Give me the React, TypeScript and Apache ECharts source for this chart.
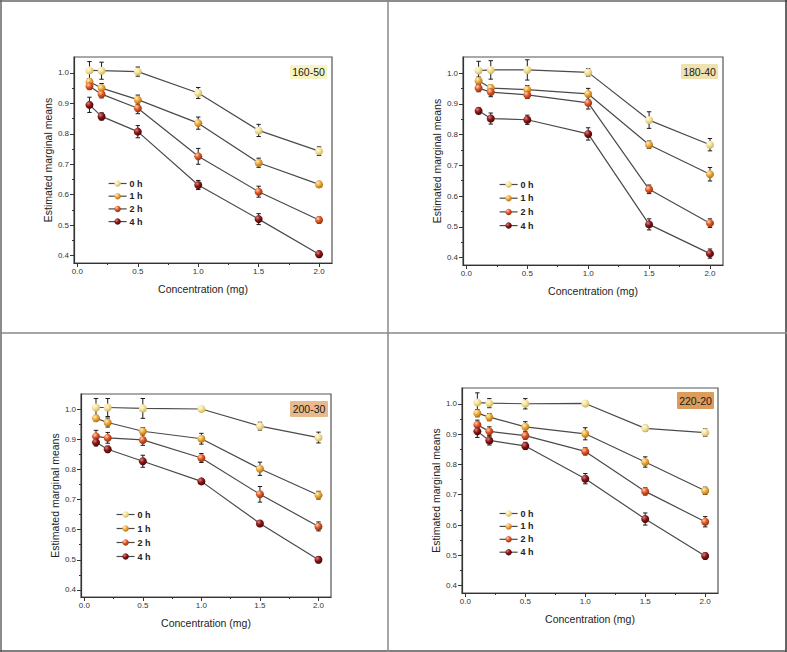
import { useEffect, useRef } from 'react';
import * as echarts from 'echarts';

// ---------- data ----------
const concentrations = [0.1, 0.2, 0.5, 1.0, 1.5, 2.0];
const hours = ['0 h', '1 h', '2 h', '4 h'];
const panelLabels = ['160-50', '180-40', '200-30', '220-20'];
const xTickValues = [0, 0.5, 1.0, 1.5, 2.0];
const xMinorTicks = [0.25, 0.75, 1.25, 1.75];
const yTickValues = [0.4, 0.5, 0.6, 0.7, 0.8, 0.9, 1.0];
const yMinorTicks = [0.45, 0.55, 0.65, 0.75, 0.85, 0.95];
const xAxisName = 'Concentration (mg)';
const yAxisName = 'Estimated marginal means';

const means_160_50 = [
  [1.008, 1.007, 1.004, 0.934, 0.811, 0.743],
  [0.971, 0.950, 0.912, 0.835, 0.705, 0.634],
  [0.956, 0.930, 0.884, 0.726, 0.610, 0.517],
  [0.895, 0.857, 0.807, 0.632, 0.520, 0.405],
];
const errors_160_50 = [
  [0.029, 0.028, 0.015, 0.018, 0.020, 0.014],
  [0.010, 0.015, 0.015, 0.020, 0.015, 0.010],
  [0.010, 0.012, 0.018, 0.026, 0.018, 0.010],
  [0.025, 0.012, 0.020, 0.015, 0.018, 0.010],
];
const means_180_40 = [
  [1.008, 1.010, 1.010, 1.002, 0.847, 0.767],
  [0.975, 0.951, 0.946, 0.932, 0.767, 0.671],
  [0.951, 0.938, 0.929, 0.903, 0.622, 0.512],
  [0.877, 0.852, 0.848, 0.802, 0.508, 0.413],
];
const errors_180_40 = [
  [0.030, 0.030, 0.033, 0.012, 0.027, 0.020],
  [0.012, 0.010, 0.013, 0.018, 0.012, 0.022],
  [0.012, 0.015, 0.012, 0.020, 0.014, 0.014],
  [0.010, 0.018, 0.015, 0.020, 0.018, 0.015],
];
const means_200_30 = [
  [1.007, 1.007, 1.004, 1.002, 0.945, 0.907],
  [0.971, 0.957, 0.928, 0.903, 0.803, 0.715],
  [0.911, 0.906, 0.899, 0.839, 0.718, 0.611],
  [0.891, 0.868, 0.828, 0.761, 0.621, 0.500],
];
const errors_200_30 = [
  [0.030, 0.030, 0.033, 0.005, 0.013, 0.018],
  [0.010, 0.015, 0.012, 0.018, 0.022, 0.013],
  [0.020, 0.018, 0.018, 0.015, 0.026, 0.015],
  [0.012, 0.010, 0.020, 0.008, 0.010, 0.010],
];
const means_220_20 = [
  [1.004, 1.002, 1.000, 1.001, 0.919, 0.905],
  [0.969, 0.956, 0.924, 0.901, 0.808, 0.713],
  [0.931, 0.909, 0.895, 0.843, 0.711, 0.611],
  [0.909, 0.879, 0.861, 0.753, 0.620, 0.498],
];
const errors_220_20 = [
  [0.032, 0.015, 0.017, 0.005, 0.010, 0.012],
  [0.012, 0.012, 0.017, 0.020, 0.017, 0.012],
  [0.015, 0.015, 0.012, 0.012, 0.012, 0.017],
  [0.020, 0.015, 0.012, 0.017, 0.020, 0.010],
];

// ---------- styling / layout ----------
const FONT = '"Liberation Sans", Arial, sans-serif';
const sphereColors = [
  ['#fffbe6', '#f4e39c', '#c9ad5a'],
  ['#fff0c8', '#efaa3a', '#a86a10'],
  ['#ffd0b0', '#de5a28', '#8c2a0c'],
  ['#e08080', '#8a1818', '#3c0404'],
];
const labelFills = ['#f8f3c2', '#efe2ae', '#e8b98c', '#dd9c5c'];

const panelMeans = [means_160_50, means_180_40, means_200_30, means_220_20];
const panelErrors = [errors_160_50, errors_180_40, errors_200_30, errors_220_20];
const grids = [
  { left: 74, top: 57, width: 258, height: 206 },
  { left: 463, top: 57, width: 260, height: 208 },
  { left: 81, top: 394, width: 250, height: 203 },
  { left: 462, top: 388, width: 256, height: 205 },
];
const legendPos = [
  { left: 108, top: 179, gap: 3.7 },
  { left: 499, top: 180, gap: 4.7 },
  { left: 116, top: 510, gap: 5.0 },
  { left: 499, top: 509, gap: 3.9 },
];
const labelBoxes = [
  { x: 290, y: 65, w: 37, h: 14 },
  { x: 681, y: 64, w: 37, h: 15 },
  { x: 290, y: 401, w: 38, h: 16 },
  { x: 677, y: 392, w: 37, h: 17 },
];
const X_MIN = -0.028;
const X_MAX = 2.107;
const Y_MIN = 0.376;
const Y_MAX = 1.052;

function sphere(h: number) {
  const [hi, mid, lo] = sphereColors[h];
  return new echarts.graphic.RadialGradient(0.35, 0.32, 0.75, [
    { offset: 0, color: hi },
    { offset: 0.45, color: mid },
    { offset: 1, color: lo },
  ]);
}

function errorBar(params: any, api: any) {
  const x = api.value(0);
  const y = api.value(1);
  const e = api.value(2);
  const top = api.coord([x, y + e]);
  const bot = api.coord([x, y - e]);
  const cap = 2.2;
  const style = { stroke: '#1a1a1a', lineWidth: 1 };
  return {
    type: 'group',
    children: [
      { type: 'line', shape: { x1: top[0], y1: top[1], x2: bot[0], y2: bot[1] }, style },
      { type: 'line', shape: { x1: top[0] - cap, y1: top[1], x2: top[0] + cap, y2: top[1] }, style },
      { type: 'line', shape: { x1: bot[0] - cap, y1: bot[1], x2: bot[0] + cap, y2: bot[1] }, style },
    ],
  };
}

function buildOption() {
  const xAxis: any[] = [];
  const yAxis: any[] = [];
  const series: any[] = [];
  const legend: any[] = [];
  const graphic: any[] = [];
  const axisColor = '#333';

  grids.forEach((g, i) => {
    xAxis.push({
      gridIndex: i, type: 'value', position: 'bottom', min: X_MIN, max: X_MAX,
      axisLine: { show: true, onZero: false, lineStyle: { color: axisColor, width: 1.2 } },
      axisTick: { show: true, length: 4, customValues: xTickValues, lineStyle: { color: axisColor } },
      axisLabel: {
        customValues: xTickValues, formatter: (v: number) => v.toFixed(1),
        fontSize: 8, color: '#333', margin: 4, fontFamily: FONT,
      },
      splitLine: { show: false },
      name: xAxisName, nameLocation: 'middle', nameGap: 20,
      nameTextStyle: { fontSize: 10.5, color: '#222', fontFamily: FONT },
    });
    xAxis.push({
      gridIndex: i, type: 'value', position: 'bottom', min: X_MIN, max: X_MAX,
      axisLine: { show: false, onZero: false },
      axisTick: { show: true, length: 2, customValues: xMinorTicks, lineStyle: { color: axisColor } },
      axisLabel: { show: false },
      splitLine: { show: false },
    });
    yAxis.push({
      gridIndex: i, type: 'value', position: 'left', min: Y_MIN, max: Y_MAX,
      axisLine: { show: true, onZero: false, lineStyle: { color: axisColor, width: 1.2 } },
      axisTick: { show: true, length: 4, customValues: yTickValues, lineStyle: { color: axisColor } },
      axisLabel: {
        customValues: yTickValues, formatter: (v: number) => v.toFixed(1),
        fontSize: 8, color: '#333', margin: 5, fontFamily: FONT,
      },
      splitLine: { show: false },
      name: yAxisName, nameLocation: 'middle', nameGap: 21,
      nameTextStyle: { fontSize: 10.5, color: '#222', fontFamily: FONT },
    });
    yAxis.push({
      gridIndex: i, type: 'value', position: 'left', min: Y_MIN, max: Y_MAX,
      axisLine: { show: false, onZero: false },
      axisTick: { show: true, length: 2, customValues: yMinorTicks, lineStyle: { color: axisColor } },
      axisLabel: { show: false },
      splitLine: { show: false },
    });

    const means = panelMeans[i];
    const errs = panelErrors[i];
    hours.forEach((hName, h) => {
      series.push({
        type: 'custom', xAxisIndex: 2 * i, yAxisIndex: 2 * i, silent: true, z: 2,
        renderItem: errorBar, encode: { x: 0, y: 1 },
        data: concentrations.map((c, k) => [c, means[h][k], errs[h][k]]),
      });
      series.push({
        type: 'line', name: hName, xAxisIndex: 2 * i, yAxisIndex: 2 * i, z: 3,
        symbol: 'circle', symbolSize: 8,
        lineStyle: { color: '#4a4a4a', width: 1.2 },
        itemStyle: { color: sphere(h), borderWidth: 0 },
        data: concentrations.map((c, k) => [c, means[h][k]]),
      });
    });

    const lp = legendPos[i];
    legend.push({
      data: hours, orient: 'vertical', left: lp.left, top: lp.top, padding: 0,
      itemGap: lp.gap, itemWidth: 18, itemHeight: 8,
      lineStyle: { width: 1.2, color: '#4a4a4a' },
      textStyle: { fontSize: 9, fontWeight: 'bold', color: '#222', fontFamily: FONT, padding: [0, 0, 0, -2] },
    });

    const lb = labelBoxes[i];
    graphic.push({
      type: 'group', children: [
        { type: 'rect', shape: { x: lb.x, y: lb.y, width: lb.w, height: lb.h, r: 1 }, style: { fill: labelFills[i] } },
        {
          type: 'text', x: lb.x + lb.w / 2, y: lb.y + lb.h / 2,
          style: { text: panelLabels[i], fill: '#1a1a1a', fontSize: 10.5, fontFamily: FONT, align: 'center', verticalAlign: 'middle' },
        },
      ],
    });
  });

  // panel frame lines
  const frame = (x1: number, y1: number, x2: number, y2: number, color: string) => ({
    type: 'line', shape: { x1, y1, x2, y2 }, style: { stroke: color, lineWidth: 1.5 }, z: 10,
  });
  graphic.push(frame(1, 0, 1, 652, '#666'));
  graphic.push(frame(0, 1, 787, 1, '#666'));
  graphic.push(frame(786, 0, 786, 652, '#333'));
  graphic.push(frame(0, 651, 787, 651, '#555'));
  graphic.push(frame(388, 0, 388, 652, '#888'));
  graphic.push(frame(0, 333, 787, 333, '#888'));

  return {
    animation: false,
    backgroundColor: '#ffffff',
    textStyle: { fontFamily: FONT },
    grid: grids.map((g) => ({ ...g, show: true, borderColor: '#555', borderWidth: 1.2, backgroundColor: 'transparent' })),
    xAxis, yAxis, series, legend, graphic,
  };
}

export default function App() {
  const ref = useRef<HTMLDivElement>(null);
  useEffect(() => {
    if (!ref.current) return;
    const chart = echarts.init(ref.current, undefined, { renderer: 'svg' });
    chart.setOption(buildOption() as any);
    return () => chart.dispose();
  }, []);
  return <div ref={ref} style={{ position: 'absolute', left: 0, top: 0, width: 787, height: 652 }} />;
}
